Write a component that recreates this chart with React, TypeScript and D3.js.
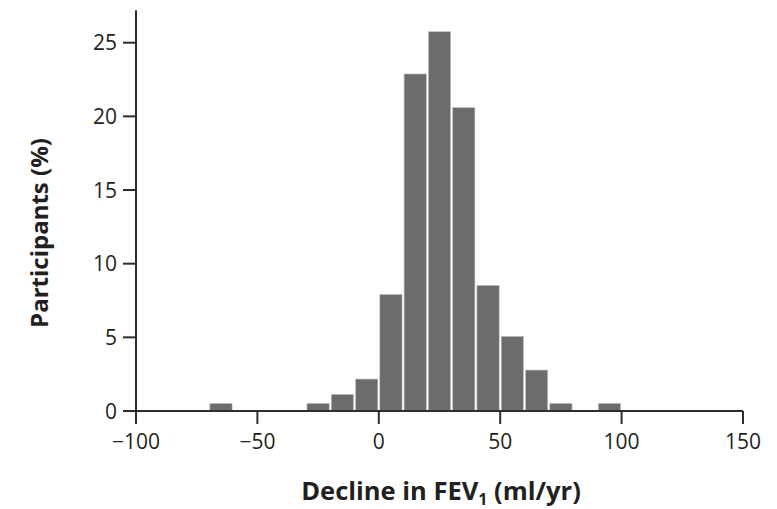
import React from "react";
import * as d3 from "d3";

const binStarts = [-70, -30, -20, -10, 0, 10, 20, 30, 40, 50, 60, 70, 90];
const binValues = [0.52, 0.52, 1.13, 2.17, 7.92, 22.88, 25.75, 20.6, 8.53, 5.07, 2.78, 0.52, 0.52];
const binWidth = 10;
const xTicks = [-100, -50, 0, 50, 100, 150];
const yTicks = [0, 5, 10, 15, 20, 25];
const xTitle = "Decline in FEV";
const yTitle = "Participants (%)";

const W = 777;
const H = 509;
const FONT = "'Open Sans', Lato, sans-serif";

export default function App() {
  const x = d3.scaleLinear().domain([-100, 150]).range([136, 743]);
  const y = d3.scaleLinear().domain([0, 25]).range([411, 42.7]);
  const axisColor = "#2e2e2e";
  const barFill = "#6c6c6c";
  const yTop = y(27.2);

  return (
    <svg
      width={W}
      height={H}
      style={{ position: "absolute", left: 0, top: 0, background: "#fff" }}
    >
      {binStarts.map((s, i) => (
        <rect
          key={s}
          x={x(s) + 1}
          y={y(binValues[i])}
          width={x(s + binWidth) - x(s) - 2}
          height={y(0) - y(binValues[i])}
          fill={barFill}
          stroke="#c8c8c8"
          strokeWidth={0.6}
        />
      ))}
      {/* y axis */}
      <line x1={x(-100)} x2={x(-100)} y1={yTop} y2={y(0)} stroke={axisColor} strokeWidth={2} />
      {yTicks.map((t) => (
        <g key={t}>
          <line x1={x(-100) - 13} x2={x(-100)} y1={y(t)} y2={y(t)} stroke={axisColor} strokeWidth={2} />
          <text
            x={x(-100) - 19}
            y={y(t)}
            dy="0.36em"
            textAnchor="end"
            fontFamily={FONT}
            fontSize={21}
            fill="#231f20"
          >
            {t}
          </text>
        </g>
      ))}
      {/* x axis */}
      <line x1={x(-100)} x2={x(150)} y1={y(0)} y2={y(0)} stroke={axisColor} strokeWidth={2} />
      {xTicks.map((t) => (
        <g key={t}>
          <line x1={x(t)} x2={x(t)} y1={y(0)} y2={y(0) + 13} stroke={axisColor} strokeWidth={2} />
          <text
            x={x(t)}
            y={449}
            textAnchor="middle"
            fontFamily={FONT}
            fontSize={21}
            fill="#231f20"
          >
            {t < 0 ? "\u2212" + Math.abs(t) : String(t)}
          </text>
        </g>
      ))}
      <text
        x={441}
        y={500}
        textAnchor="middle"
        fontFamily={FONT}
        fontSize={25.5}
        fontWeight="bold"
        fill="#231f20"
      >
        {xTitle}
        <tspan fontSize={16} dy={5}>1</tspan>
        <tspan dy={-5}> (ml/yr)</tspan>
      </text>
      <text
        transform={`translate(48, 233) rotate(-90)`}
        textAnchor="middle"
        fontFamily={FONT}
        fontSize={24}
        fontWeight="bold"
        fill="#231f20"
      >
        {yTitle}
      </text>
    </svg>
  );
}
